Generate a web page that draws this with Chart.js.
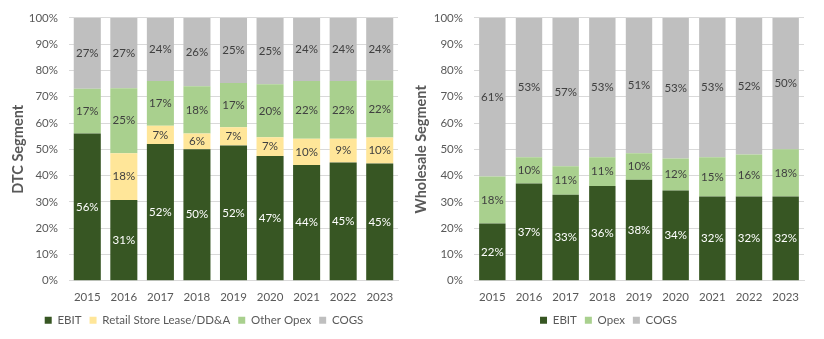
<!DOCTYPE html>
<html>
<head>
<meta charset="utf-8">
<script src="https://cdn.jsdelivr.net/npm/chart.js@4"></script>
<style>
	html, body { margin: 0; padding: 0; background: #fff; }
	#wrap { position: relative; width: 824px; height: 339px; }
	.box { position: absolute; top: 0; height: 339px; }
</style>
</head>
<body>
<div id="wrap">
	<div class="box" style="left:0;width:405px"><canvas id="dtc"></canvas></div>
	<div class="box" style="left:405px;width:419px"><canvas id="whs"></canvas></div>
</div>
<script>
var years = ['2015', '2016', '2017', '2018', '2019', '2020', '2021', '2022', '2023'];

// DTC segment, % of revenue
var dtcEbit = [56, 31, 52, 50, 52, 47, 44, 45, 45];
var dtcRetail = [0, 18, 7, 6, 7, 7, 10, 9, 10];
var dtcOpex = [17, 25, 17, 18, 17, 20, 22, 22, 22];
var dtcCogs = [27, 27, 24, 26, 25, 25, 24, 24, 24];

// Wholesale segment, % of revenue
var whsEbit = [22, 37, 33, 36, 38, 34, 32, 32, 32];
var whsOpex = [18, 10, 11, 11, 10, 12, 15, 16, 18];
var whsCogs = [61, 53, 57, 53, 51, 53, 53, 52, 50];

var yTicks = [0, 10, 20, 30, 40, 50, 60, 70, 80, 90, 100];

var FONT = 'Lato, "Open Sans", sans-serif';
var GREY = '#595959';

// scale each year so the stack fills 100%, like an Excel 100% stacked column
function normalise(sets)
{
	var out = sets.map(() => []);
	for (var i = 0; i < years.length; i++)
	{
		var total = 0;
		sets.forEach(s => { total += s[i]; });
		sets.forEach((s, k) => { out[k].push(s[i] / total * 100); });
	}
	return out;
}

var labelPlugin = {
	id: 'segLabels',
	afterDatasetsDraw(chart)
	{
		var ctx = chart.ctx;
		ctx.save();
		ctx.font = '11.5px ' + FONT;
		ctx.textAlign = 'center';
		ctx.textBaseline = 'middle';
		chart.data.datasets.forEach((ds, di) => {
			var meta = chart.getDatasetMeta(di);
			meta.data.forEach((bar, i) => {
				var v = ds.shown[i];
				if (!v) return;
				ctx.fillStyle = ds.labelColor;
				ctx.fillText(v + '%', bar.x, (bar.y + bar.base) / 2);
			});
		});
		ctx.restore();
	}
};

function makeChart(id, title, names, colors, textColors, sets, pad, barPct)
{
	var norm = normalise(sets);
	var datasets = names.map((n, k) => ({
		label: n,
		data: norm[k],
		shown: sets[k],
		backgroundColor: colors[k],
		labelColor: textColors[k],
		barPercentage: barPct,
		categoryPercentage: 1
	}));

	return new Chart(document.getElementById(id), {
		type: 'bar',
		data: { labels: years, datasets: datasets },
		plugins: [labelPlugin],
		options: {
			responsive: true,
			maintainAspectRatio: false,
			animation: false,
			layout: { padding: pad },
			plugins: {
				tooltip: { enabled: false },
				legend: {
					position: 'bottom',
					labels: {
						boxWidth: 7,
						boxHeight: 7,
						padding: 8,
						color: GREY,
						font: { family: FONT, size: 11.5 }
					}
				}
			},
			scales: {
				x: {
					stacked: true,
					grid: { display: false },
					border: { color: '#D9D9D9' },
					ticks: { color: GREY, font: { family: FONT, size: 11.5 }, padding: 2 }
				},
				y: {
					stacked: true,
					min: 0,
					max: 100,
					afterBuildTicks: scale => { scale.ticks = yTicks.map(v => ({ value: v })); },
					afterFit: scale => { scale.width = 69 - pad.left; },
					grid: { color: '#D9D9D9', drawTicks: false },
					border: { display: false },
					ticks: {
						color: GREY,
						padding: 11,
						font: { family: FONT, size: 11.5 },
						callback: v => v + '%'
					},
					title: {
						display: true,
						text: title,
						color: GREY,
						padding: 0,
						font: { family: FONT, size: 14.5, weight: 'bold' }
					}
				}
			}
		}
	});
}

makeChart('dtc', 'DTC Segment',
	['EBIT', 'Retail Store Lease/DD&A', 'Other Opex', 'COGS'],
	['#375623', '#FFE699', '#A9D08E', '#BFBFBF'],
	['#FFFFFF', '#404040', '#404040', '#404040'],
	[dtcEbit, dtcRetail, dtcOpex, dtcCogs],
	{ left: 10, right: 7, top: 11, bottom: 3 }, 0.74);

makeChart('whs', 'Wholesale Segment',
	['EBIT', 'Opex', 'COGS'],
	['#375623', '#A9D08E', '#BFBFBF'],
	['#FFFFFF', '#404040', '#404040'],
	[whsEbit, whsOpex, whsCogs],
	{ left: 8, right: 20, top: 16, bottom: 3 }, 0.72);
</script>
</body>
</html>
